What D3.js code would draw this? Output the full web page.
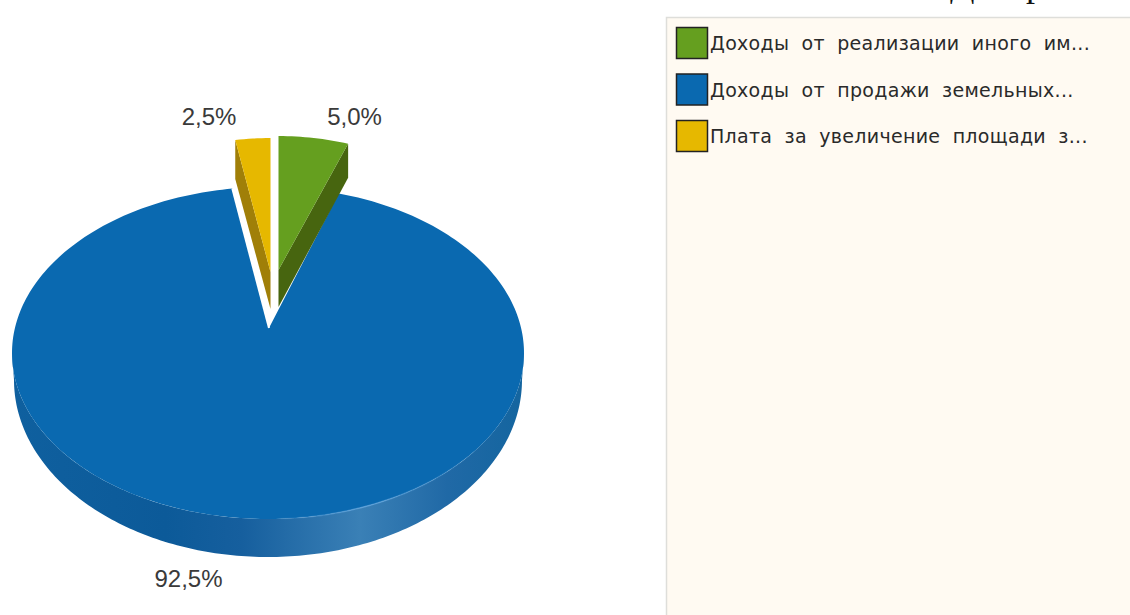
<!DOCTYPE html>
<html>
<head>
<meta charset="utf-8">
<script src="https://cdn.jsdelivr.net/npm/d3@7"></script>
<style>
  html, body { margin: 0; padding: 0; background: #fff; overflow: hidden; }
  svg { display: block; }
</style>
</head>
<body>
<div id="chart"></div>
<script>
// Data
const categories = ['Доходы от реализации иного им...', 'Доходы от продажи земельных...', 'Плата за увеличение площади з...'];
const shares = [5.0, 92.5, 2.5];
const colors = ['#659f1f', '#0a69b0', '#e6b800'];
const sideColors = ['#47650f', '#0e5a98', '#a07f08'];
const titleBits = ['Д', 'р']; // only the feet of these letters are left in the crop

const W = 1130, H = 615;
const svg = d3.select('#chart').append('svg').attr('width', W).attr('height', H);
const defs = svg.append('defs');

// Pie layout
const pie = d3.pie().sort(null).value(d => d).startAngle(0).endAngle(2 * Math.PI);
const slices = pie(shares);

// Ellipse of the top face, with the apex off-centre for the perspective
const cx = 268, cy = 353, rx = 256, ry = 166;
const apexY = 328;
const rim = a => [cx + rx * Math.sin(a), cy - ry * Math.cos(a)];

// Exploded slices are shrunk a bit and moved up
const explode = {
  0: { ax: 278.5, ay: 270, sx: 0.88, sy: 0.95, rimDepth: 34, apexDepth: 37 },
  2: { ax: 270.5, ay: 272, sx: 0.88, sy: 0.95, rimDepth: 39, apexDepth: 37 }
};
const move = (p, e) => e ? [e.ax + (p[0] - cx) * e.sx, e.ay + (p[1] - apexY) * e.sy] : p;

function rimPoints(a0, a1, e) {
  const n = Math.max(2, Math.ceil((a1 - a0) / 0.02));
  return d3.range(n + 1).map(i => move(rim(a0 + (a1 - a0) * i / n), e));
}
const line = d3.line();

// Side gradient of the big slice
const grad = defs.append('linearGradient').attr('id', 'wall')
  .attr('gradientUnits', 'userSpaceOnUse')
  .attr('x1', 12).attr('x2', 524).attr('y1', 0).attr('y2', 0);
[[0, '#0f609f'], [0.3, '#0c5a99'], [0.45, '#165f9e'], [0.68, '#3a80b6'], [0.85, '#2069a6'], [1, '#14659f']]
  .forEach(s => grad.append('stop').attr('offset', s[0]).attr('stop-color', s[1]));

// Soft light along the front rim
const glow = defs.append('linearGradient').attr('id', 'glow')
  .attr('gradientUnits', 'userSpaceOnUse')
  .attr('x1', 270).attr('x2', 480).attr('y1', 0).attr('y2', 0);
[[0, 0], [0.45, 0.75], [1, 0]].forEach(s => glow.append('stop')
  .attr('offset', s[0]).attr('stop-color', '#5fa3dc').attr('stop-opacity', s[1]));

// Wall between the top ellipse and the bottom ellipse
const wallTop = d3.range(0, 181).map(i => {
  const a = Math.PI / 2 + Math.PI * i / 180;
  return [cx + rx * Math.sin(a), cy - ry * Math.cos(a)];
});
const wallBottom = d3.range(180, -1, -1).map(i => {
  const a = Math.PI / 2 + Math.PI * i / 180;
  return [cx + 254 * Math.sin(a), 380 - 177 * Math.cos(a)];
});
svg.append('path').attr('d', line(wallTop.concat(wallBottom)) + 'Z').attr('fill', 'url(#wall)');

// Big slice top face, the notch is drawn a little tighter than the true angles
const big = slices[1];
const notch = 0.89;
const bigStart = big.startAngle * notch;
const bigEnd = 2 * Math.PI - (2 * Math.PI - big.endAngle) * notch;
const bigApex = [cx + 1, apexY];
const bigRim = rimPoints(bigStart, bigEnd);
svg.append('path')
  .attr('d', line([bigApex].concat(bigRim)) + 'Z')
  .attr('fill', colors[1]);
svg.append('path')
  .attr('d', line([bigRim[bigRim.length - 1], bigApex]))
  .attr('fill', 'none').attr('stroke', '#fff').attr('stroke-width', 2);
svg.append('path')
  .attr('d', line(rimPoints(Math.PI / 2 + 0.55, Math.PI - 0.05)))
  .attr('fill', 'none').attr('stroke', 'url(#glow)').attr('stroke-width', 1.5);

// Exploded slices
[0, 2].forEach(i => {
  const s = slices[i];
  const e = explode[i];
  const a0 = i === 2 ? s.startAngle - 2 * Math.PI : s.startAngle;
  const a1 = i === 2 ? s.endAngle - 2 * Math.PI : s.endAngle;
  const top = rimPoints(a0, a1, e);
  const apex = [e.ax, e.ay];
  // the visible wall is on the side that faces the viewer
  const edge = i === 0 ? top[top.length - 1] : top[0];
  const wall = [apex, edge, [edge[0], edge[1] + e.rimDepth], [apex[0], apex[1] + e.apexDepth]];
  svg.append('path').attr('d', line(wall) + 'Z').attr('fill', sideColors[i]);
  svg.append('path').attr('d', line([apex].concat(top)) + 'Z').attr('fill', colors[i]);
});

// Value labels
const fmt = v => v.toFixed(1).replace('.', ',') + '%';
const labelAt = [[354.5, 116], [188.5, 578], [209, 116]];
svg.selectAll('.val').data(shares).enter().append('text')
  .attr('class', 'val')
  .attr('x', (d, i) => labelAt[i][0]).attr('y', (d, i) => labelAt[i][1])
  .attr('text-anchor', 'middle').attr('dominant-baseline', 'central')
  .attr('font-family', '"Liberation Sans", sans-serif').attr('font-size', 24)
  .attr('fill', '#3a3a3a').text(fmt);

// Cropped title at the top edge
svg.selectAll('.ttl').data(titleBits).enter().append('text')
  .attr('class', 'ttl')
  .attr('x', (d, i) => i === 0 ? 950 : 1026).attr('y', -4)
  .attr('font-family', '"Liberation Serif", serif').attr('font-size', 36)
  .attr('fill', '#111').text(d => d);

// Legend panel
svg.append('rect').attr('x', 666.5).attr('y', 17.5).attr('width', 470).attr('height', 610)
  .attr('fill', '#fffaf2').attr('stroke', '#dededa').attr('stroke-width', 1.5);

const legend = svg.selectAll('.leg').data(categories).enter().append('g')
  .attr('class', 'leg')
  .attr('transform', (d, i) => `translate(676,${27 + i * 46.5})`);
legend.append('rect').attr('width', 31).attr('height', 31)
  .attr('x', 0.5).attr('y', 0.5)
  .attr('fill', (d, i) => colors[i]).attr('stroke', '#222').attr('stroke-width', 1.5);
legend.append('text').attr('x', 34).attr('y', 16)
  .attr('dominant-baseline', 'central')
  .attr('font-family', '"DejaVu Sans", sans-serif').attr('font-size', 19)
  .attr('word-spacing', 6).attr('letter-spacing', 0.3)
  .attr('fill', '#2a2a2a').text(d => d);
</script>
</body>
</html>
